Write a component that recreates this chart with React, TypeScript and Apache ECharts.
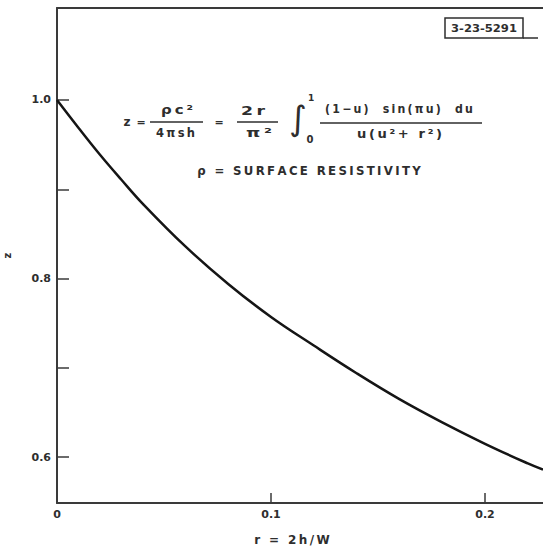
import React, { useEffect, useRef } from "react";
import * as echarts from "echarts";

// r = 2h/W
const rValues = [0, 0.01, 0.02, 0.03, 0.04, 0.06, 0.08, 0.1, 0.12, 0.14, 0.16, 0.18, 0.2, 0.22, 0.2271];
// z = ρc² / 4πsh
const zValues = [1.0, 0.969, 0.939, 0.911, 0.884, 0.836, 0.794, 0.757, 0.725, 0.694, 0.665, 0.639, 0.615, 0.593, 0.586];

const yTicks = [0.6, 0.7, 0.8, 0.9, 1.0];
const yLabels = [0.6, 0.8, 1.0];
const xTicks = [0.1, 0.2];
const xLabels = [0, 0.1, 0.2];

const INK = "#2e2e2e";
const FONT = "DejaVu Sans";

let measureCtx: CanvasRenderingContext2D | null = null;
function measure(text: string, font: string): number {
  if (!measureCtx) measureCtx = document.createElement("canvas").getContext("2d");
  if (!measureCtx) return text.length * 7;
  measureCtx.font = font;
  return measureCtx.measureText(text).width;
}

// letters spread apart in the style of stencil lettering
const spaced = (s: string) => Array.from(s).join("\u2009");

// text centred between x1 and x2, stretched to span exactly that width
function fit(text: string, x1: number, x2: number, y: number, size: number) {
  const font = `bold ${size}px "${FONT}"`;
  const w = measure(text, font);
  return {
    type: "text",
    x: (x1 + x2) / 2,
    y,
    scaleX: w > 0 ? (x2 - x1) / w : 1,
    style: { text, fill: INK, font, textAlign: "center", textVerticalAlign: "middle" },
  };
}

function label(text: string, x: number, y: number, size: number, weight = "bold") {
  return {
    type: "text",
    x,
    y,
    style: { text, fill: INK, font: `${weight} ${size}px "${FONT}"`, textAlign: "center", textVerticalAlign: "middle" },
  };
}

function rule(x1: number, x2: number, y: number) {
  return { type: "line", shape: { x1, y1: y, x2, y2: y }, style: { stroke: INK, lineWidth: 1.4 } };
}

export default function App() {
  const ref = useRef<HTMLDivElement>(null);

  useEffect(() => {
    if (!ref.current) return;
    const chart = echarts.init(ref.current, null, { renderer: "svg" });
    const axisText = { color: INK, fontFamily: FONT, fontSize: 11, fontWeight: "bold" as const };

    chart.setOption({
      animation: false,
      backgroundColor: "#ffffff",
      grid: { left: 57, right: 0, top: 8, bottom: 46, containLabel: false, outerBoundsMode: "none" },
      xAxis: [
        {
          type: "value",
          min: 0,
          max: 0.2271,
          name: spaced("r = 2h/W"),
          nameLocation: "middle",
          nameGap: 31,
          nameTextStyle: { ...axisText, fontSize: 12, padding: [0, 16, 0, 0] },
          axisLine: { show: true, onZero: false, lineStyle: { color: "#3a3a3a", width: 2 } },
          axisTick: { show: true, inside: true, length: 10, customValues: xTicks, lineStyle: { color: "#3a3a3a", width: 1.5 } },
          axisLabel: {
            customValues: xLabels,
            margin: 6,
            ...axisText,
            formatter: (v: number) => (v === 0 ? "0" : v.toFixed(1)),
          },
          splitLine: { show: false },
        },
        {
          type: "value",
          position: "top",
          min: 0,
          max: 0.2271,
          axisLine: { show: true, onZero: false, lineStyle: { color: "#3a3a3a", width: 2 } },
          axisTick: { show: false },
          axisLabel: { show: false },
          splitLine: { show: false },
        },
      ],
      yAxis: {
        type: "value",
        min: 0.5487,
        max: 1.103,
        name: "z",
        nameLocation: "middle",
        nameGap: 45,
        nameRotate: 90,
        nameTextStyle: { ...axisText, fontSize: 10 },
        axisLine: { show: true, onZero: false, lineStyle: { color: "#3a3a3a", width: 2 } },
        axisTick: { show: true, inside: true, length: 12, customValues: yTicks, lineStyle: { color: "#3a3a3a", width: 1.5 } },
        axisLabel: {
          customValues: yLabels,
          margin: 6,
          ...axisText,
          formatter: (v: number) => v.toFixed(1),
        },
        splitLine: { show: false },
      },
      series: [
        {
          type: "line",
          xAxisIndex: 0,
          smooth: 0.4,
          showSymbol: false,
          data: rValues.map((r, i) => [r, zValues[i]]),
          lineStyle: { color: "#151515", width: 2.5 },
        },
      ],
      graphic: [
        // z = ρc² / 4πsh
        label("z", 127, 122, 12),
        label("=", 141, 122, 11),
        fit(spaced("ρc²"), 161, 193, 109, 13),
        rule(150, 203, 122),
        fit(spaced("4πsh"), 156, 195, 133, 12),
        label("=", 219, 122, 11),
        // 2r / π²
        fit(spaced("2r"), 241, 265, 111, 13),
        rule(237, 278, 122),
        fit(spaced("π²"), 246, 272, 133, 12),
        // integral from 0 to 1
        label("∫", 298, 118, 34, "normal"),
        label("1", 311, 98, 9),
        label("0", 310, 139, 10),
        fit(spaced("(1−u)  sin(πu)  du"), 325, 473, 109, 12),
        rule(320, 482, 123),
        fit(spaced("u(u²+ r²)"), 357, 442, 134, 12),
        // definition of ρ
        fit(spaced("ρ = SURFACE RESISTIVITY"), 197, 421, 170, 13),
        // drawing number stamp
        {
          type: "rect",
          shape: { x: 445, y: 18, width: 78, height: 20 },
          style: { fill: "none", stroke: INK, lineWidth: 1.5 },
        },
        {
          type: "line",
          shape: { x1: 523, y1: 38, x2: 538, y2: 38 },
          style: { stroke: INK, lineWidth: 1.5 },
        },
        fit("3-23-5291", 451, 517, 28.5, 11),
      ],
    });
    return () => chart.dispose();
  }, []);

  return (
    <div
      ref={ref}
      style={{ position: "fixed", left: 0, top: 0, width: 543, height: 549, background: "#fff" }}
    />
  );
}
